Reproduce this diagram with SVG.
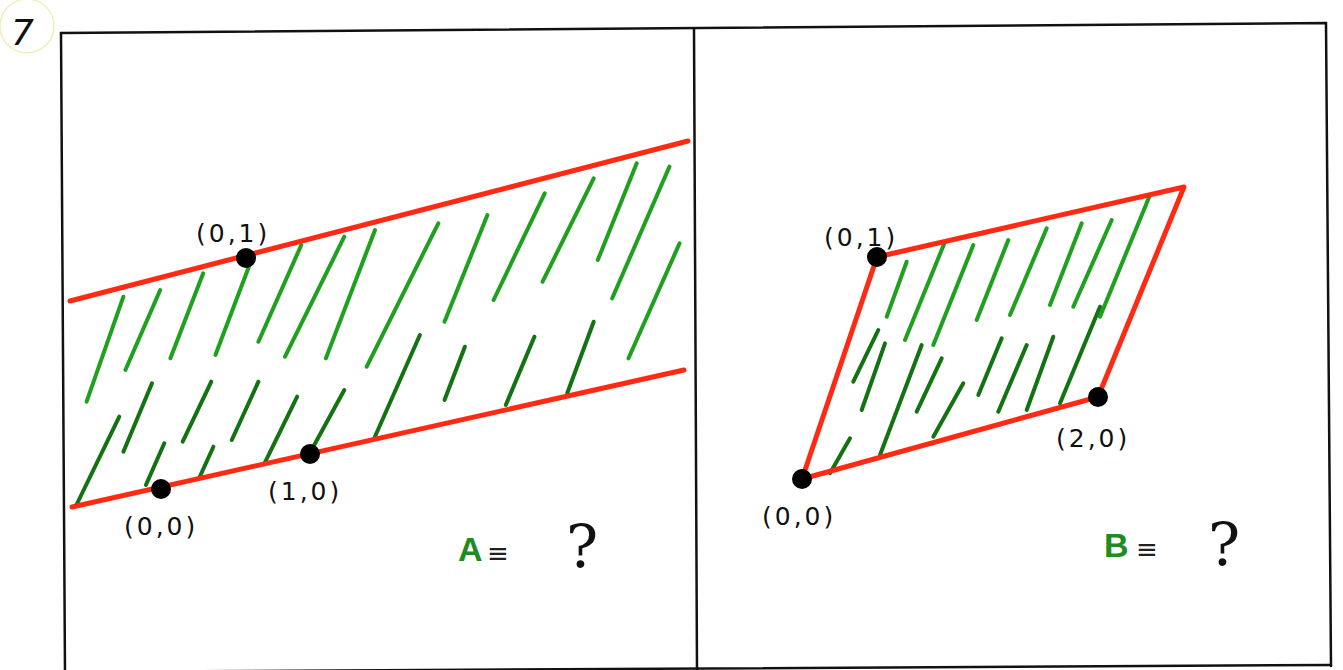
<svg xmlns="http://www.w3.org/2000/svg" width="1343" height="670" viewBox="0 0 1343 670">
<style>
.frame{fill:none;stroke:#111;stroke-width:2.5;stroke-linecap:round}
.red{fill:none;stroke:#ff2a14;stroke-width:5;stroke-linecap:round;stroke-linejoin:round}
.g1{fill:none;stroke:#1fa01f;stroke-width:4;stroke-linecap:round}
.g2{fill:none;stroke:#137313;stroke-width:4;stroke-linecap:round}
.dot{fill:#000}
.lbl{font-family:"DejaVu Sans","Liberation Sans",sans-serif;font-size:25px;fill:#111;letter-spacing:3px}
.big{font-family:"Liberation Sans","DejaVu Sans",sans-serif;font-weight:bold;fill:#1e8c1e;font-size:34px}
.eq{font-family:"DejaVu Sans",sans-serif;fill:#222;font-size:26px}
.q{font-family:"DejaVu Serif","Liberation Serif",serif;fill:#111;font-size:60px}
</style>
<rect width="1343" height="670" fill="#fff"/>
<g id="page-number">
<circle cx="27" cy="26" r="27" fill="none" stroke="#f3ecbb" stroke-width="1.5"/>
<text x="11" y="45" font-family="DejaVu Sans, sans-serif" font-size="36" font-style="italic" fill="#111">7</text>
</g>
<g id="frame">
<path class="frame" d="M61,33 L1326,23 L1331,666"/>
<path class="frame" d="M61,33 L65,672"/>
<path class="frame" d="M65,672 L1331,665"/>
<path class="frame" d="M694,29 L697,670"/>
</g>
<g id="panel-A">
<g id="hatch-A">
<path class="g1" d="M123.4,296.7 L86.6,401.7"/>
<path class="g1" d="M160.2,290 L125.4,370"/>
<path class="g1" d="M203.2,273.3 L170.4,358.3"/>
<path class="g1" d="M250.2,263.3 L215.4,355"/>
<path class="g1" d="M301.3,245 L258.4,341.7"/>
<path class="g1" d="M344.3,236.7 L285,356.7"/>
<path class="g1" d="M375,230 L325.9,358.3"/>
<path class="g1" d="M438.3,223.3 L366.7,366.7"/>
<path class="g1" d="M487.4,215 L444.5,321.7"/>
<path class="g1" d="M544.7,193.3 L493.6,300"/>
<path class="g1" d="M593.7,178.3 L542.6,281.7"/>
<path class="g1" d="M636.7,163.3 L597.8,260"/>
<path class="g1" d="M669.4,166.7 L612.2,298.3"/>
<path class="g1" d="M679.6,243.3 L628.5,358.3"/>
<path class="g2" d="M119.3,416.7 L76.4,505"/>
<path class="g2" d="M152,383.3 L123.4,451.7"/>
<path class="g2" d="M164.3,443.3 L145.9,485"/>
<path class="g2" d="M211.3,381.7 L182.7,441.7"/>
<path class="g2" d="M213.4,446.7 L199.1,478.3"/>
<path class="g2" d="M258.4,381.7 L231.8,440"/>
<path class="g2" d="M297.2,396.7 L264.5,463.3"/>
<path class="g2" d="M344.3,390 L311.5,450"/>
<path class="g2" d="M419.9,335 L374.9,436.7"/>
<path class="g2" d="M464.9,346.7 L444.5,400"/>
<path class="g2" d="M534.4,336.7 L505.8,405"/>
<path class="g2" d="M593.7,321.7 L567.2,393.3"/>
</g>
<path class="red" d="M70,301 L688,141"/>
<path class="red" d="M72,507 L684,370"/>
<circle class="dot" cx="246" cy="258" r="10"/>
<circle class="dot" cx="161" cy="489" r="10"/>
<circle class="dot" cx="310" cy="454" r="10"/>
<text class="lbl" x="196" y="242">(0,1)</text>
<text class="lbl" x="124" y="535">(0,0)</text>
<text class="lbl" x="268" y="500">(1,0)</text>
<text class="big" x="458" y="561">A</text>
<text class="eq" x="487" y="562">≡</text>
<text class="q" x="566" y="568">?</text>
</g>
<g id="panel-B">
<g id="hatch-B">
<path class="g1" d="M945,241.7 L905,340"/>
<path class="g1" d="M973.3,245 L933.3,345"/>
<path class="g1" d="M1008.3,240 L976.7,320"/>
<path class="g1" d="M1046.7,228.3 L1010,315"/>
<path class="g1" d="M1081.7,223.3 L1050,305"/>
<path class="g1" d="M1111.7,220 L1073.3,306.7"/>
<path class="g1" d="M1150,195 L1100,316.7"/>
<path class="g1" d="M906.7,261.7 L886.7,316.7"/>
<path class="g2" d="M878.3,330 L853.3,381.7"/>
<path class="g2" d="M885,343.3 L861.7,410"/>
<path class="g2" d="M921.7,345 L880,455"/>
<path class="g2" d="M941.7,358.3 L916.7,411.7"/>
<path class="g2" d="M963.3,383.3 L933.3,436.7"/>
<path class="g2" d="M1001.7,338.3 L978.3,395"/>
<path class="g2" d="M1026.7,345 L998.3,411.7"/>
<path class="g2" d="M1053.3,336.7 L1026.7,410"/>
<path class="g2" d="M1100,306.7 L1060,403.3"/>
<path class="g2" d="M850,438.3 L830,473.3"/>
</g>
<path class="red" d="M802,479 L877,257 L1184,187 L1098,397 Z"/>
<circle class="dot" cx="877" cy="257" r="10"/>
<circle class="dot" cx="802" cy="479" r="10"/>
<circle class="dot" cx="1098" cy="397" r="10"/>
<text class="lbl" x="824" y="246">(0,1)</text>
<text class="lbl" x="762" y="525">(0,0)</text>
<text class="lbl" x="1056" y="447">(2,0)</text>
<text class="big" x="1104" y="557">B</text>
<text class="eq" x="1136" y="558">≡</text>
<text class="q" x="1208" y="566">?</text>
</g>
</svg>
